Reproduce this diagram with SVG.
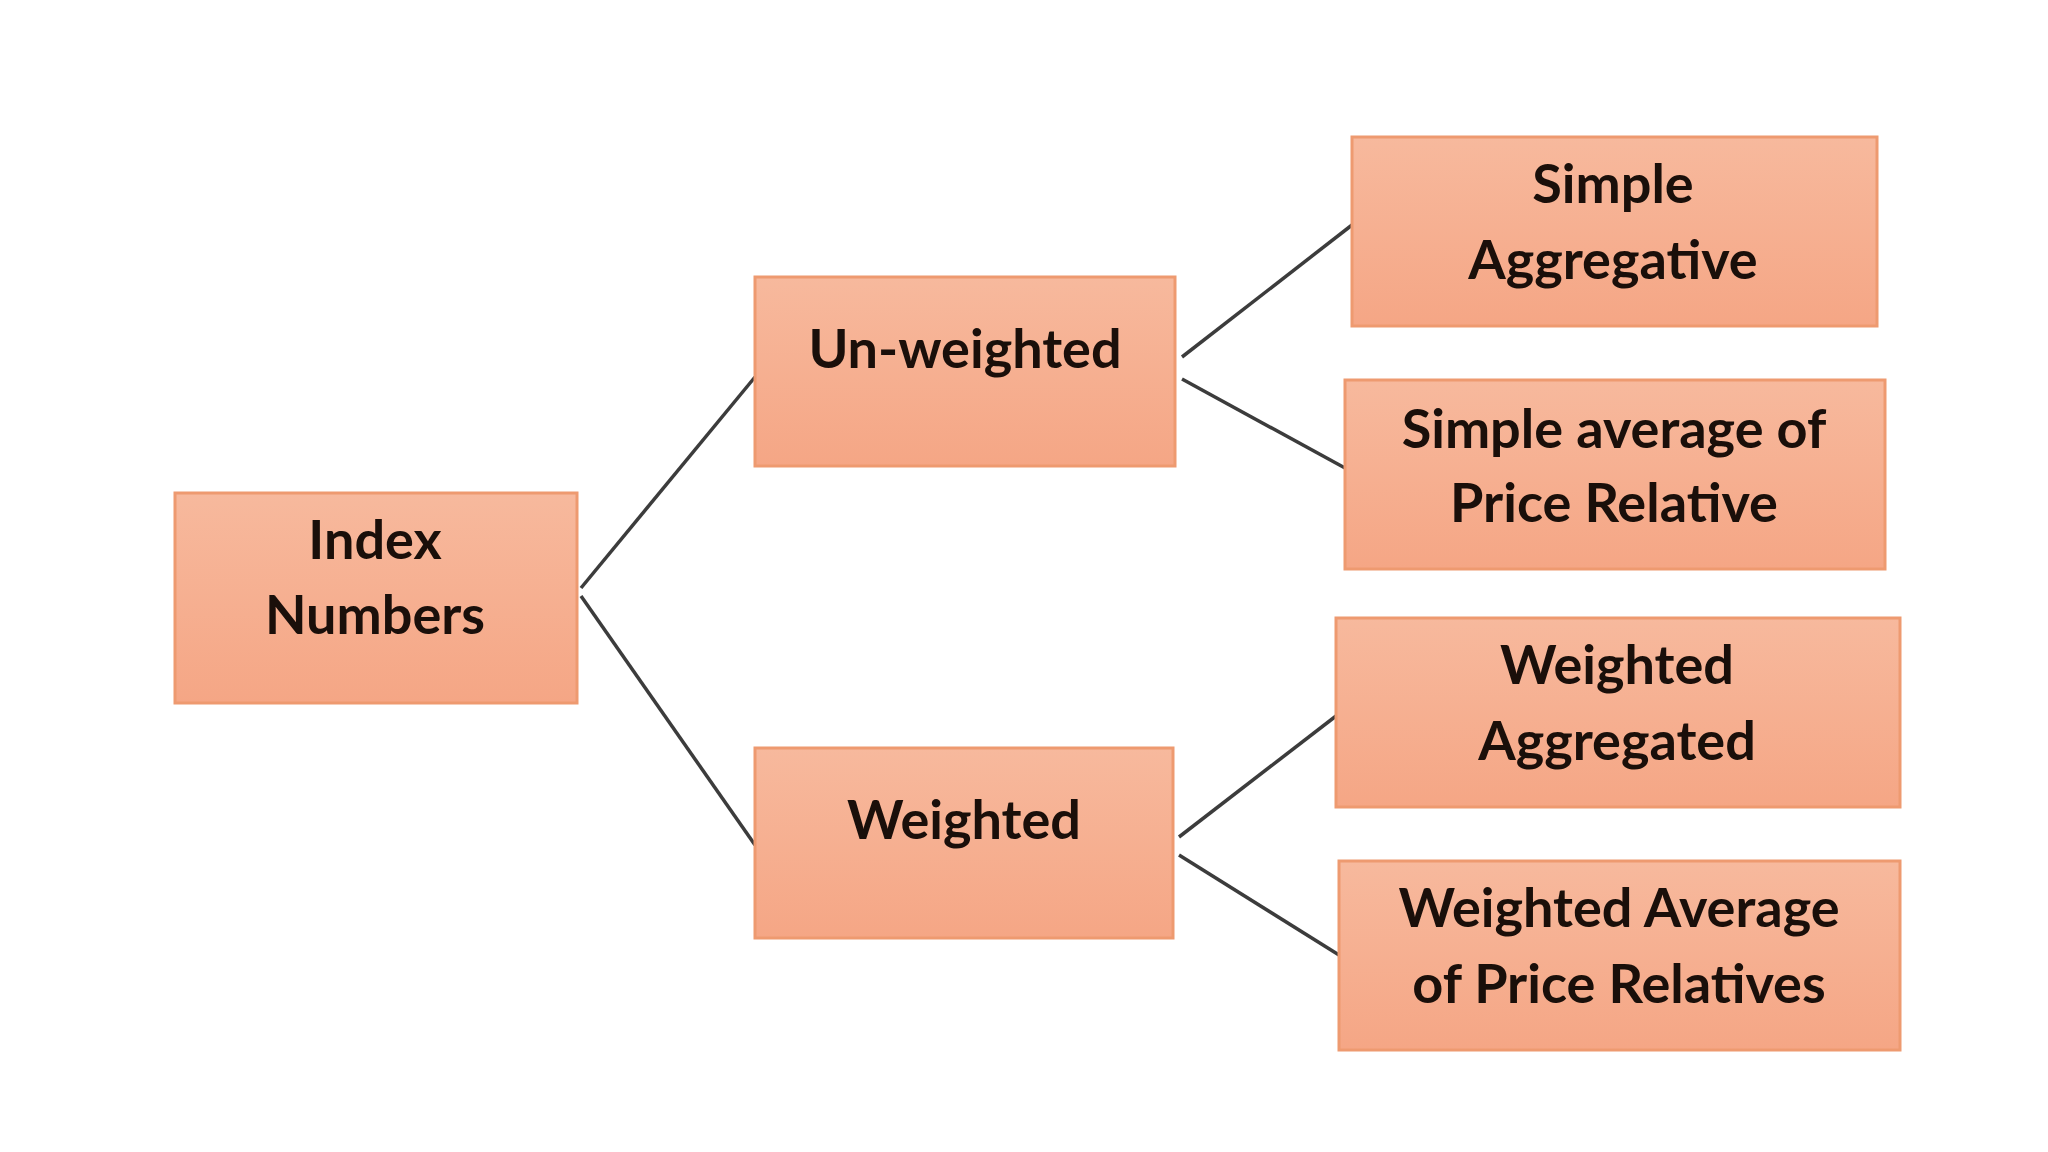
<svg xmlns="http://www.w3.org/2000/svg" width="2048" height="1152" viewBox="0 0 2048 1152">
<defs>
<linearGradient id="g" x1="0" y1="0" x2="0" y2="1">
<stop offset="0" stop-color="#f7b99d"/>
<stop offset="1" stop-color="#f5a685"/>
</linearGradient>
<style>
.box{fill:url(#g);stroke:#ee9a70;stroke-width:3}
.t{font-family:Lato,"Liberation Sans",sans-serif;font-weight:bold;font-size:54px;fill:#1a0f0a;text-anchor:middle}
.c{stroke:#3c3c3c;stroke-width:3.5;fill:none}
</style>
</defs>
<rect width="2048" height="1152" fill="#ffffff"/>
<g id="connectors">
<line class="c" x1="581" y1="588" x2="755" y2="377"/>
<line class="c" x1="581" y1="596" x2="755" y2="845"/>
<line class="c" x1="1182" y1="357" x2="1352" y2="225"/>
<line class="c" x1="1182" y1="379" x2="1345" y2="468"/>
<line class="c" x1="1179" y1="837" x2="1336" y2="716"/>
<line class="c" x1="1179" y1="855" x2="1339" y2="955"/>
</g>
<g id="index-numbers">
<rect class="box" x="175" y="493" width="402" height="210"/>
<text class="t" x="375" y="559">Index</text>
<text class="t" x="375" y="634">Numbers</text>
</g>
<g id="un-weighted">
<rect class="box" x="755" y="277" width="420" height="189"/>
<text class="t" x="965" y="368">Un-weighted</text>
</g>
<g id="weighted">
<rect class="box" x="755" y="748" width="418" height="190"/>
<text class="t" x="964" y="839">Weighted</text>
</g>
<g id="simple-aggregative">
<rect class="box" x="1352" y="137" width="525" height="189"/>
<text class="t" x="1613" y="203">Simple</text>
<text class="t" x="1613" y="279">Aggregative</text>
</g>
<g id="simple-average">
<rect class="box" x="1345" y="380" width="540" height="189"/>
<text class="t" x="1614" y="448">Simple average of</text>
<text class="t" x="1614" y="522">Price Relative</text>
</g>
<g id="weighted-aggregated">
<rect class="box" x="1336" y="618" width="564" height="189"/>
<text class="t" x="1617" y="684">Weighted</text>
<text class="t" x="1617" y="760">Aggregated</text>
</g>
<g id="weighted-average">
<rect class="box" x="1339" y="861" width="561" height="189"/>
<text class="t" x="1619" y="927">Weighted Average</text>
<text class="t" x="1619" y="1003">of Price Relatives</text>
</g>
</svg>
